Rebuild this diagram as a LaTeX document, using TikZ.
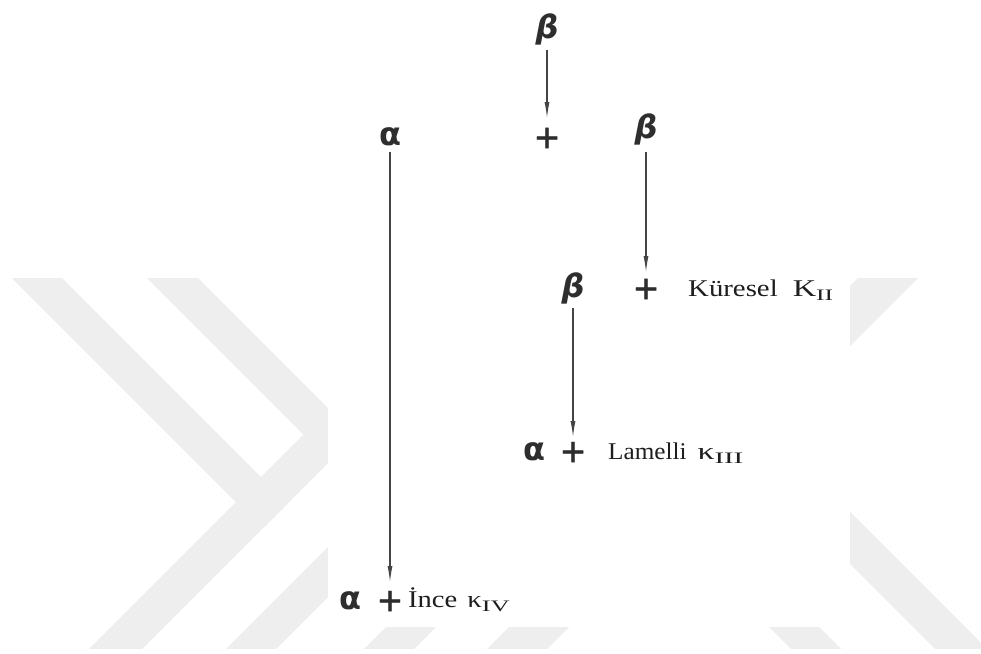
\documentclass[tikz,border=0pt]{standalone}
\usepackage{fontspec}
\usepackage{graphicx}
\setmainfont{Liberation Serif}
\newfontfamily\glyphfont{DejaVu Sans}
\newfontfamily\plusfont[FakeBold=1.4]{DejaVu Sans}
\usetikzlibrary{arrows.meta}

\definecolor{ink}{HTML}{2E2E2E}
\definecolor{textink}{HTML}{1E1E1E}
\definecolor{lineink}{HTML}{444444}
\definecolor{shade}{HTML}{EEEEEE}

% lowered, widened Roman-numeral index after K / kappa
\newcommand\romsub[2]{\raisebox{-4pt}{\fontsize{16}{16}\selectfont\scalebox{#1}[1]{#2}}}

\tikzset{
  greek/.style={inner sep=0pt, text=ink, font=\glyphfont\bfseries\fontsize{32}{32}\selectfont},
  greekslant/.style={greek, font=\glyphfont\bfseries\itshape\fontsize{32}{32}\selectfont},
  plus/.style={inner sep=0pt, text=ink, font=\plusfont\fontsize{32}{32}\selectfont},
  lbl/.style={inner sep=0pt, anchor=base west, text=textink, font=\fontsize{24}{24}\selectfont},
  arr/.style={draw=lineink, line width=1.1pt, -{Latex[length=16pt,width=5pt]}},
  band/.style={fill=shade, draw=none}
}

\begin{document}
\begin{tikzpicture}[x=1pt,y=-1pt]
\useasboundingbox (0,0) rectangle (981,653);
\fill[white] (0,0) rectangle (981,653);

% faint chevron watermark behind the figure
\begin{scope}
  \clip (0,278) rectangle (981,648);
  \fill[band] (-16,250) -- (34,250) -- (287.5,503.5) -- (262.5,528.5) -- cycle;
  \fill[band] (488,250) -- (541,250) -- (111,680) -- (58,680) -- cycle;
  \fill[band] (119,250) -- (170,250) -- (355.5,435.5) -- (330,461) -- cycle;
  \fill[band] (625,250) -- (675,250) -- (245,680) -- (195,680) -- cycle;
  \fill[band] (763,250) -- (813,250) -- (383,680) -- (333,680) -- cycle;
  \fill[band] (886,250) -- (946,250) -- (516,680) -- (456,680) -- cycle;
  \fill[band] (392,250) -- (442,250) -- (872,680) -- (822,680) -- cycle;
  \fill[band] (536,250) -- (588,250) -- (1018,680) -- (966,680) -- cycle;
\end{scope}
\fill[white] (328,0) rectangle (850,627);

% phases
\node[greekslant] (b1) at (547,29)  {β};
\node[plus]       (p1) at (547,138) {+};
\node[greek]      (a1) at (390,137) {α};
\node[greekslant] (b2) at (646,129) {β};
\node[plus]       (p2) at (646,289) {+};
\node[lbl]        (t2) at (688,296)
  {\scalebox{1.2}[1]{Küresel}\hspace{15pt}\scalebox{1.35}[1]{K}\romsub{1.6}{II}};
\node[greekslant] (b3) at (573,288) {β};
\node[greek]      (a3) at (534,452) {α};
\node[plus]       (p3) at (573,452) {+};
\node[lbl]        (t3) at (608,459)
  {\scalebox{1.05}[1]{Lamelli}\hspace{11pt}\scalebox{1.4}[1]{κ}\romsub{1.8}{III}};
\node[greek]      (a4) at (350,601) {α};
\node[plus]       (p4) at (390,601) {+};
\node[lbl]        (t4) at (408,607)
  {\scalebox{1.19}[1]{İnce}\hspace{10pt}\scalebox{1.2}[1]{κ}\romsub{1.65}{IV}};

% transformations
\draw[arr] ([yshift=-21pt]b1.center) -- ([yshift=20pt]p1.center);
\draw[arr] ([yshift=-23pt]b2.center) -- ([yshift=17pt]p2.center);
\draw[arr] ([yshift=-20pt]b3.center) -- ([yshift=15pt]p3.center);
\draw[arr] ([yshift=-15pt]a1.center) -- ([yshift=19pt]p4.center);
\end{tikzpicture}
\end{document}
